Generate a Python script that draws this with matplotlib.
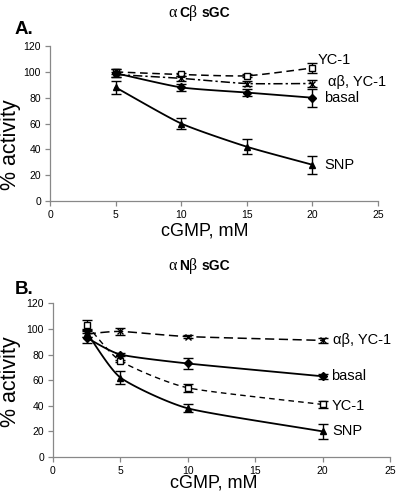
import numpy as np
import matplotlib
matplotlib.use("Agg")
import matplotlib.pyplot as plt

plt.rcParams['font.family'] = ['Liberation Sans', 'DejaVu Sans']

# Panel A data
xA = [5, 10, 15, 20]
A_basal = [99, 88, 84, 80]
A_basal_err = [3, 3, 3, 7]
A_snp = [88, 60, 42, 28]
A_snp_err = [5, 4, 6, 7]
A_yc1 = [100, 98, 97, 103]
A_yc1_err = [2, 1, 1, 4]
A_ab = [98, 95, 91, 91]
A_ab_err = [2, 2, 2, 3]

# Panel B data
xB = [2.5, 5, 10, 20]
B_basal = [93, 80, 73, 63]
B_basal_err = [4, 1, 4, 2]
B_snp = [97, 62, 38, 20]
B_snp_err = [3, 5, 3, 6]
B_yc1 = [103, 75, 54, 41]
B_yc1_err = [4, 1, 3, 3]
B_ab = [96, 98, 94, 91]
B_ab_err = [2, 3, 1, 2]

xticks = [0, 5, 10, 15, 20, 25]
yticks = [0, 20, 40, 60, 80, 100, 120]


def smooth(x, y, n=30):
    # Catmull-Rom style smoothing like spreadsheet smoothed lines
    x = np.asarray(x, float); y = np.asarray(y, float)
    P = np.column_stack([x, y])
    P = np.vstack([P[0] - (P[1] - P[0]), P, P[-1] + (P[-1] - P[-2])])
    out = []
    for i in range(1, len(P) - 2):
        p0, p1, p2, p3 = P[i - 1], P[i], P[i + 1], P[i + 2]
        t = np.linspace(0, 1, n)[:, None]
        m1 = (p2 - p0) / 2 * 0.6
        m2 = (p3 - p1) / 2 * 0.6
        h00 = 2 * t**3 - 3 * t**2 + 1
        h10 = t**3 - 2 * t**2 + t
        h01 = -2 * t**3 + 3 * t**2
        h11 = t**3 - t**2
        out.append(h00 * p1 + h10 * m1 + h01 * p2 + h11 * m2)
    S = np.vstack(out)
    return S[:, 0], S[:, 1]


def series(ax, x, y, e, marker, mfc, lw=1.3, ms=4.5, dashes=None):
    sx, sy = smooth(x, y)
    line, = ax.plot(sx, sy, color='black', lw=lw, ls='-')
    if dashes is not None:
        line.set_dashes(dashes)
    ax.errorbar(x, y, yerr=e, fmt='none', ecolor='black', elinewidth=1.0,
                capsize=3.5, capthick=1.0)
    ax.plot(x, y, ls='none', marker=marker, color='black', mfc=mfc,
            mec='black', ms=ms, mew=1.0)


def style(ax):
    ax.set_xlim(0, 25)
    ax.set_ylim(0, 120)
    ax.set_xticks(xticks)
    ax.set_yticks(yticks)
    for s in ['top', 'right']:
        ax.spines[s].set_visible(False)
    for s in ['left', 'bottom']:
        ax.spines[s].set_color('#888888')
        ax.spines[s].set_linewidth(0.9)
    ax.tick_params(colors='#888888', labelcolor='black', labelsize=7.5,
                   length=3.5, width=0.9, pad=3)


fig = plt.figure(figsize=(4, 4.96), dpi=100)

axA = fig.add_axes([0.125, 0.595, 0.82, 0.312])
series(axA, xA, A_yc1, A_yc1_err, 's', 'white', lw=1.1, dashes=(5, 3))
series(axA, xA, A_ab, A_ab_err, 'x', 'black', lw=1.1, dashes=(6, 2, 1.5, 2))
series(axA, xA, A_basal, A_basal_err, 'D', 'black')
series(axA, xA, A_snp, A_snp_err, '^', 'black')
style(axA)
axA.text(20.4, 109, 'YC-1', fontsize=10.5, va='center')
axA.text(21.2, 92, 'αβ, YC-1', fontsize=10.5, va='center')
axA.text(20.9, 80, 'basal', fontsize=10.5, va='center')
axA.text(20.9, 28, 'SNP', fontsize=10.5, va='center')

axB = fig.add_axes([0.1325, 0.0786, 0.8425, 0.31])
series(axB, xB, B_ab, B_ab_err, 'x', 'black', lw=1.1, dashes=(6, 3))
series(axB, xB, B_yc1, B_yc1_err, 's', 'white', lw=1.0, dashes=(4, 3))
series(axB, xB, B_basal, B_basal_err, 'D', 'black')
series(axB, xB, B_snp, B_snp_err, '^', 'black')
style(axB)
axB.text(20.8, 91, 'αβ, YC-1', fontsize=10.5, va='center')
axB.text(20.6, 63, 'basal', fontsize=10.5, va='center')
axB.text(20.7, 40, 'YC-1', fontsize=10.5, va='center')
axB.text(20.7, 20, 'SNP', fontsize=10.5, va='center')

# Axis labels
fig.text(0.0275, 0.708, '% activity', rotation=90, ha='center', va='center', fontsize=15.5)
fig.text(0.0275, 0.230, '% activity', rotation=90, ha='center', va='center', fontsize=15.5)
fig.text(0.5125, 0.534, 'cGMP, mM', ha='center', va='center', fontsize=13)
fig.text(0.535, 0.026, 'cGMP, mM', ha='center', va='center', fontsize=13)

# Titles built from pieces (Greek in serif, text in bold sans)
renderer = fig.canvas.get_renderer()
W = fig.bbox.width
for (ty, letter) in [(0.966, 'C'), (0.455, 'N')]:
    pieces = [('α', dict(family='Liberation Serif', fontsize=11.5), 3),
              (letter, dict(fontweight='bold', fontsize=10), 0),
              ('β', dict(family='Liberation Serif', fontsize=11.5), 4),
              ('sGC', dict(fontweight='bold', fontsize=10), 0)]
    x = 0.42
    for txt, kw, gap in pieces:
        t = fig.text(x, ty, txt, ha='left', va='baseline', **kw)
        bb = t.get_window_extent(renderer)
        x += (bb.width + gap) / W

fig.text(0.0375, 0.941, 'A.', ha='left', va='center', fontsize=13.5, fontweight='bold')
fig.text(0.0375, 0.417, 'B.', ha='left', va='center', fontsize=13.5, fontweight='bold')

fig.savefig('out.png', dpi=100)
